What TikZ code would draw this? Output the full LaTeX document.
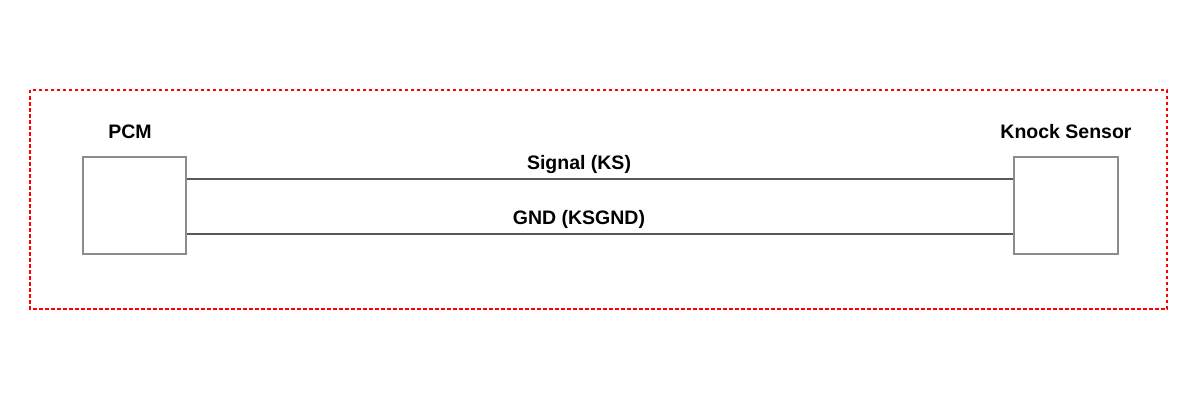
\documentclass[tikz,border=0pt]{standalone}
\usepackage{fontspec}
\setmainfont{Liberation Sans}
\begin{document}
\begin{tikzpicture}[x=1pt,y=-1pt,
  box/.style={draw=black!45,line width=2.2pt,fill=white},
  wire/.style={draw=black!65,line width=2.4pt},
  lbl/.style={font=\fontsize{19.5}{22}\selectfont\bfseries,inner sep=0pt,anchor=base},
  frame/.style={draw=red,dashed,line width=1.3pt,dash pattern=on 3.5pt off 2.5pt}]
\useasboundingbox[fill=white] (0,0) rectangle (1200,412);
\draw[frame] (30,90) rectangle (1167,309);
\node[box,minimum width=103pt,minimum height=97pt,inner sep=0pt] (pcm) at (134.5,205.5) {};
\node[box,minimum width=104pt,minimum height=97pt,inner sep=0pt] (ks) at (1066,205.5) {};
\coordinate (pa) at (pcm.east |- 0,179);
\coordinate (pb) at (pcm.east |- 0,234);
\coordinate (ka) at (ks.west |- 0,179);
\coordinate (kb) at (ks.west |- 0,234);
\draw[wire] (pa) -- (ka);
\draw[wire] (pb) -- (kb);
\node[lbl] (tpcm) at (130,138) {PCM};
\node[lbl] (tks) at (1066,138) {Knock Sensor};
\node[lbl] (tsig) at (579,169) {Signal (KS)};
\node[lbl] (tgnd) at (579,224) {GND (KSGND)};
\end{tikzpicture}
\end{document}
